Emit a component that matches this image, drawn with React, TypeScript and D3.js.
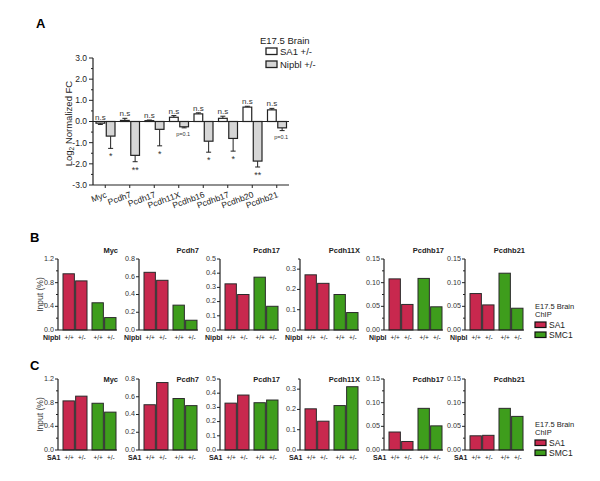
import React from 'react';
import * as d3 from 'd3';

// ---------- Panel A data ----------
const genesA = ['Myc', 'Pcdh7', 'Pcdh17', 'Pcdh11X', 'Pcdhb16', 'Pcdhb17', 'Pcdhb20', 'Pcdhb21'];
const sa1FC = [-0.08, 0.05, 0.04, 0.2, 0.36, 0.15, 0.68, 0.55];
const sa1Err = [0.06, 0.1, 0.03, 0.08, 0.05, 0.1, 0.04, 0.07];
const nipblFC = [-0.69, -1.6, -0.37, -0.25, -0.93, -0.8, -1.87, -0.3];
const nipblErr = [0.58, 0.3, 0.78, 0.05, 0.52, 0.6, 0.28, 0.13];
const sigSA1 = ['n.s', 'n.s', 'n.s', 'n.s', 'n.s', 'n.s', 'n.s', 'n.s'];
const sigNipbl = ['*', '**', '*', 'p=0.1', '*', '*', '**', 'p=0.1'];
const ticksA = [-3, -2, -1, 0, 1, 2, 3];
const minorTicksA = [-2.5, -1.5, -0.5, 0.5, 1.5, 2.5];
const seriesA = ['SA1 +/-', 'Nipbl +/-'];

// ---------- Panels B / C data ----------
const chipGenes = ['Myc', 'Pcdh7', 'Pcdh17', 'Pcdh11X', 'Pcdhb17', 'Pcdhb21'];
const chipYMax = [1.2, 0.8, 0.5, 0.35, 0.15, 0.15];
const chipMajor = [
  [0, 0.4, 0.8, 1.2],
  [0, 0.2, 0.4, 0.6, 0.8],
  [0, 0.1, 0.2, 0.3, 0.4, 0.5],
  [0, 0.1, 0.2, 0.3],
  [0, 0.05, 0.1, 0.15],
  [0, 0.05, 0.1, 0.15],
];
const chipMinor = [
  [0.2, 0.6, 1.0],
  [],
  [],
  [0.35],
  [0.025, 0.075, 0.125],
  [0.025, 0.075, 0.125],
];
const chipDigits = [1, 1, 1, 1, 2, 2];
const chipSeries = ['SA1', 'SMC1'];
const genotypes = ['+/+', '+/-'];

const bSA1wt = [0.95, 0.65, 0.325, 0.272, 0.108, 0.077];
const bSA1het = [0.83, 0.56, 0.25, 0.23, 0.054, 0.053];
const bSMC1wt = [0.46, 0.28, 0.372, 0.175, 0.109, 0.12];
const bSMC1het = [0.21, 0.11, 0.167, 0.086, 0.049, 0.046];

const cSA1wt = [0.83, 0.51, 0.33, 0.203, 0.038, 0.03];
const cSA1het = [0.91, 0.76, 0.387, 0.142, 0.018, 0.031];
const cSMC1wt = [0.79, 0.58, 0.333, 0.219, 0.088, 0.088];
const cSMC1het = [0.64, 0.5, 0.352, 0.312, 0.051, 0.071];

const FONT = 'Liberation Sans, Arial, Helvetica, sans-serif';
const RED = '#C8284E';
const GREEN = '#3E9D1C';
const INK = '#222';

function PanelA() {
  const y = d3.scaleLinear().domain([-3, 3]).range([185, 58]);
  const x = d3.scaleBand().domain(genesA).range([93, 289]);
  const inner = d3.scaleBand().domain(seriesA).range([3, x.bandwidth() - 2.5]).paddingInner(0.15);
  const bw = inner.bandwidth();
  const fills = ['#ffffff', '#d6d6d6'];
  return (
    <g fontFamily={FONT}>
      <line x1={93} x2={93} y1={y(3)} y2={y(-3)} stroke={INK} strokeWidth={1.2} />
      <line x1={93} x2={289} y1={y(-3)} y2={y(-3)} stroke={INK} strokeWidth={1.2} />
      <line x1={93} x2={289} y1={y(0)} y2={y(0)} stroke={INK} strokeWidth={1.2} />
      {ticksA.map((t) => (
        <g key={'t' + t}>
          <line x1={89} x2={93} y1={y(t)} y2={y(t)} stroke={INK} strokeWidth={1} />
          <text x={87} y={y(t)} dy="0.35em" textAnchor="end" fontSize={8.5} fill={INK}>
            {t.toFixed(1)}
          </text>
        </g>
      ))}
      {minorTicksA.map((t) => (
        <line key={'m' + t} x1={91} x2={93} y1={y(t)} y2={y(t)} stroke={INK} strokeWidth={1} />
      ))}
      <text transform={`translate(72,${y(0) + 2}) rotate(-90)`} textAnchor="middle" fontSize={9.5} fill={INK}>
        Log<tspan fontSize={6.5} dy={2}>2</tspan>
        <tspan dy={-2}> Normalized FC</tspan>
      </text>
      {genesA.map((g, i) => {
        const cx = (x(g) as number) + x.bandwidth() / 2;
        const x0 = (x(g) as number) + (inner('SA1 +/-') as number);
        const x1 = (x(g) as number) + (inner('Nipbl +/-') as number);
        const v0 = sa1FC[i];
        const e0 = v0 >= 0 ? v0 + sa1Err[i] : v0 - sa1Err[i];
        const v1 = nipblFC[i];
        const e1 = v1 - nipblErr[i];
        const c0 = x0 + bw / 2;
        const c1 = x1 + bw / 2;
        const nsY = Math.min(y(0), y(e0)) - 2;
        const isP = sigNipbl[i].startsWith('p');
        return (
          <g key={g}>
            <line x1={cx} x2={cx} y1={y(-3)} y2={y(-3) + 3} stroke={INK} strokeWidth={1} />
            <line x1={c0} x2={c0} y1={y(v0)} y2={y(e0)} stroke={INK} strokeWidth={1} />
            <line x1={c0 - 2.5} x2={c0 + 2.5} y1={y(e0)} y2={y(e0)} stroke={INK} strokeWidth={1} />
            <rect x={x0} width={bw} y={Math.min(y(0), y(v0))} height={Math.abs(y(v0) - y(0))}
              fill={fills[0]} stroke={INK} strokeWidth={1.2} />
            <line x1={c1} x2={c1} y1={y(v1)} y2={y(e1)} stroke={INK} strokeWidth={1} />
            <line x1={c1 - 2.5} x2={c1 + 2.5} y1={y(e1)} y2={y(e1)} stroke={INK} strokeWidth={1} />
            <rect x={x1} width={bw} y={y(0)} height={y(v1) - y(0)}
              fill={fills[1]} stroke={INK} strokeWidth={1.2} />
            <text x={c0} y={nsY} textAnchor="middle" fontSize={8} fill="#333">{sigSA1[i]}</text>
            <text x={isP ? c1 - 1 : c1} y={y(e1) + (isP ? 8 : 11)} textAnchor="middle"
              fontSize={isP ? 5.5 : 9} fill="#333">{sigNipbl[i]}</text>
            <text transform={`translate(${cx + 2},197) rotate(-20)`} textAnchor="end" fontSize={8.5} fill={INK}>
              {g}
            </text>
          </g>
        );
      })}
      <text x={260} y={43.5} fontSize={9.5} fill={INK}>E17.5 Brain</text>
      {seriesA.map((s, i) => (
        <g key={s}>
          <rect x={266} y={48 + i * 13} width={11} height={6.5} fill={fills[i]} stroke={INK} strokeWidth={1.3} />
          <text x={280} y={55 + i * 13} fontSize={9.5} fill={INK}>{s}</text>
        </g>
      ))}
      <text x={36} y={28} fontSize={13} fontWeight="bold" fill="#000">A</text>
    </g>
  );
}

const panelX = [58, 139, 220, 300, 384, 465];

function ChipPanel(props: {
  top: number; bottom: number; titleY: number; labelY: number; letter: string; letterY: number;
  factor: string; sa1wt: number[]; sa1het: number[]; smc1wt: number[]; smc1het: number[]; legendY: number;
}) {
  const { top, bottom, titleY, labelY, letter, letterY, factor, legendY } = props;
  const outer = d3.scaleBand().domain(chipSeries).range([5, 58]).paddingInner(0.172);
  const inner = d3.scaleBand().domain(genotypes).range([0, outer.bandwidth()]).paddingInner(0.1);
  const bw = inner.bandwidth();
  const colors = [RED, GREEN];
  return (
    <g fontFamily={FONT}>
      <text x={30} y={letterY} fontSize={13} fontWeight="bold" fill="#000">{letter}</text>
      {chipGenes.map((g, i) => {
        const ox = panelX[i];
        const y = d3.scaleLinear().domain([0, chipYMax[i]]).range([bottom, top]);
        const vals = [
          [props.sa1wt[i], props.sa1het[i]],
          [props.smc1wt[i], props.smc1het[i]],
        ];
        return (
          <g key={g}>
            <text x={ox + 60} y={titleY} textAnchor="end" fontSize={7.5} fontWeight="bold" fill={INK}>{g}</text>
            {chipSeries.map((s, si) =>
              genotypes.map((gt, gi) => {
                const bx = ox + (outer(s) as number) + (inner(gt) as number);
                const v = vals[si][gi];
                return (
                  <g key={s + gt}>
                    <rect x={bx} y={y(v)} width={bw} height={bottom - y(v)} fill={colors[si]}
                      stroke="#2a2a2a" strokeWidth={1} />
                    <text x={bx + bw / 2 + 0.5} y={labelY} textAnchor="middle" fontSize={6.5} fill={INK}>{gt}</text>
                  </g>
                );
              })
            )}
            <line x1={ox} x2={ox} y1={top} y2={bottom} stroke={INK} strokeWidth={1.2} />
            <line x1={ox} x2={ox + 59} y1={bottom} y2={bottom} stroke={INK} strokeWidth={1.2} />
            {chipMajor[i].map((t) => (
              <g key={'t' + t}>
                <line x1={ox - 3} x2={ox} y1={y(t)} y2={y(t)} stroke={INK} strokeWidth={1} />
                <text x={ox - 4} y={y(t) - 0.5} dy="0.33em" textAnchor="end" fontSize={7.2} fill="#333">
                  {t.toFixed(chipDigits[i])}
                </text>
              </g>
            ))}
            {chipMinor[i].map((t) => (
              <line key={'m' + t} x1={ox - 2} x2={ox} y1={y(t)} y2={y(t)} stroke={INK} strokeWidth={1} />
            ))}
            <text x={ox + 2.5} y={labelY} textAnchor="end" fontSize={7} fontWeight="bold" fill={INK}>{factor}</text>
          </g>
        );
      })}
      <text transform={`translate(43,${(top + bottom) / 2}) rotate(-90)`} textAnchor="middle" fontSize={8.5} fill="#444">
        Input (%)
      </text>
      <text x={535} y={legendY - 0.5} fontSize={7.5} fill={INK}>E17.5 Brain</text>
      <text x={535} y={legendY + 8.3} fontSize={7.5} fill={INK}>ChIP</text>
      {chipSeries.map((s, i) => (
        <g key={s}>
          <rect x={535} y={legendY + 13 + i * 10} width={11} height={5.5} fill={colors[i]} stroke="#111" strokeWidth={1.2} />
          <text x={549} y={legendY + 19 + i * 10} fontSize={8.5} fill={INK}>{s}</text>
        </g>
      ))}
    </g>
  );
}

export default function App() {
  return (
    <svg width={600} height={481} style={{ position: 'absolute', left: 0, top: 0, background: '#fff' }}>
      <rect width={600} height={481} fill="#fff" />
      <PanelA />
      <ChipPanel top={259} bottom={330} titleY={252.5} labelY={340} letter="B" letterY={242}
        factor="Nipbl" sa1wt={bSA1wt} sa1het={bSA1het} smc1wt={bSMC1wt} smc1het={bSMC1het} legendY={309} />
      <ChipPanel top={379} bottom={450} titleY={382} labelY={460} letter="C" letterY={370}
        factor="SA1" sa1wt={cSA1wt} sa1het={cSA1het} smc1wt={cSMC1wt} smc1het={cSMC1het} legendY={427} />
    </svg>
  );
}
